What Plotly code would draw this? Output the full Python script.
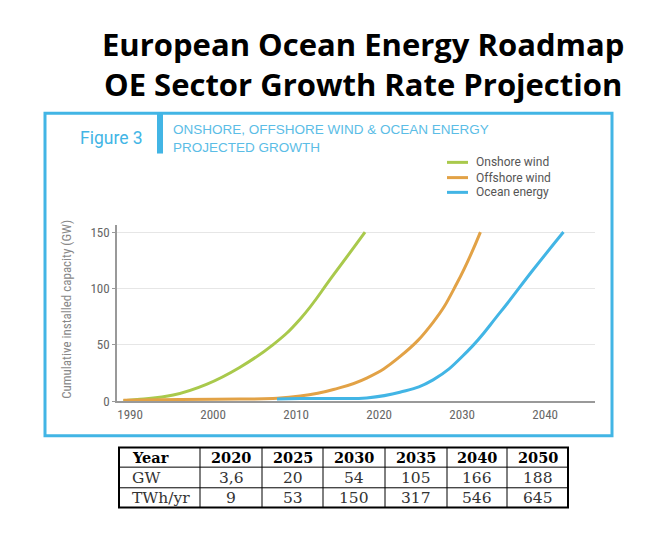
import plotly.graph_objects as go

# page has an 8px body margin: figure sized so the whole page is 652x550
FW, FH, OFF = 636, 534, 8
def fx(px): return (px - OFF) / FW
def fy(py): return 1 - (py - OFF) / FH

# ---- data ----
series_names = ["Onshore wind", "Offshore wind", "Ocean energy"]

onshore_years = [1989.2, 1991.2, 1995.2, 1999.2, 2003.2, 2007.2, 2010.5, 2014.5, 2018.3]
onshore_gw = [0.5, 1.7, 5.5, 15, 30, 50, 73, 112, 150]

offshore_years = [1989.2, 1996, 2003.2, 2007.2, 2010.5, 2014.5, 2018.5, 2022.5, 2026.5, 2029.4, 2032.2]
offshore_gw = [1, 1.5, 2, 2.5, 4.6, 10.5, 20.6, 39.5, 70, 105, 150]

ocean_years = [2007.7, 2010.5, 2014.5, 2018.5, 2022.5, 2026.5, 2030.6, 2034.6, 2038.6, 2042.2]
ocean_gw = [2, 2.5, 2.5, 3, 8, 19, 44, 79, 117, 150]

x_ticks = [1990, 2000, 2010, 2020, 2030, 2040]
y_ticks = [0, 50, 100, 150]

table_header = ["Year", "2020", "2025", "2030", "2035", "2040", "2050"]
table_gw = ["GW", "3,6", "20", "54", "105", "166", "188"]
table_twh = ["TWh/yr", "9", "53", "150", "317", "546", "645"]

GREEN = "#a9c94c"
ORANGE = "#e2a246"
BLUE = "#42b5e5"
NARROW = "Liberation Sans Narrow, Roboto Condensed, Roboto, sans-serif"

fig = go.Figure()
colors = [GREEN, ORANGE, BLUE]
for name, xs, ys, col in zip(series_names,
                             [onshore_years, offshore_years, ocean_years],
                             [onshore_gw, offshore_gw, ocean_gw], colors):
    fig.add_trace(go.Scatter(x=xs, y=ys, mode="lines", name=name, showlegend=False,
                             line=dict(color=col, width=3, shape="spline", smoothing=1.3)))

shapes = [
    # figure frame
    dict(type="rect", xref="paper", yref="paper", x0=fx(45), x1=fx(612), y0=fy(442), y1=fy(114),
         line=dict(color=BLUE, width=3), fillcolor="rgba(0,0,0,0)", layer="below"),
    # vertical bar of the figure header
    dict(type="rect", xref="paper", yref="paper", x0=fx(157), x1=fx(163), y0=fy(155), y1=fy(114),
         line=dict(width=0), fillcolor=BLUE),
]
annotations = [
    dict(text="<b>European Ocean Energy Roadmap<br>OE Sector Growth Rate Projection</b>",
         x=fx(363), y=fy(64), xref="paper", yref="paper", xanchor="center", yanchor="middle",
         showarrow=False, align="center", font=dict(family="Open Sans", size=31, color="black")),
    dict(text="Figure 3", x=fx(78), y=fy(139), xref="paper", yref="paper",
         xanchor="left", yanchor="middle", showarrow=False,
         font=dict(family="Roboto", size=17.5, color=BLUE)),
    dict(text="ONSHORE, OFFSHORE WIND &amp; OCEAN ENERGY<br>PROJECTED GROWTH", x=fx(171), y=fy(140),
         xref="paper", yref="paper", xanchor="left", yanchor="middle", align="left", showarrow=False,
         font=dict(family="Liberation Sans, Arial, sans-serif", size=13.5, color="#5bbde6")),
    dict(text="Cumulative installed capacity (GW)", x=fx(67), y=fy(313), xref="paper", yref="paper",
         xanchor="center", yanchor="middle", textangle=-90, showarrow=False,
         font=dict(family=NARROW, size=13, color="#888")),
]

# custom legend (short line samples)
legend_y = [164, 179.5, 194.5]
for name, col, ly in zip(series_names, colors, legend_y):
    shapes.append(dict(type="line", xref="paper", yref="paper", x0=fx(447), x1=fx(468),
                       y0=fy(ly), y1=fy(ly), line=dict(color=col, width=3)))
    annotations.append(dict(text=name, x=fx(474), y=fy(ly), xref="paper", yref="paper",
                            xanchor="left", yanchor="middle", showarrow=False,
                            font=dict(family="Roboto", size=12, color="#555")))

# table built from the arrays
col_edges = [119, 200, 262, 323, 385, 447, 507, 568]
row_edges = [454, 474, 495, 515]
for xe in col_edges[1:-1]:
    shapes.append(dict(type="line", xref="paper", yref="paper", x0=fx(xe), x1=fx(xe),
                       y0=fy(row_edges[0]), y1=fy(row_edges[-1]), line=dict(color="black", width=1)))
for ye in row_edges[1:-1]:
    shapes.append(dict(type="line", xref="paper", yref="paper", x0=fx(col_edges[0]), x1=fx(col_edges[-1]),
                       y0=fy(ye), y1=fy(ye), line=dict(color="black", width=1)))
shapes.append(dict(type="rect", xref="paper", yref="paper", x0=fx(col_edges[0]), x1=fx(col_edges[-1]),
                   y0=fy(row_edges[-1]), y1=fy(row_edges[0]), line=dict(color="black", width=2),
                   fillcolor="rgba(0,0,0,0)"))
for r, row in enumerate([table_header, table_gw, table_twh]):
    yc = (row_edges[r] + row_edges[r + 1]) / 2 + 0.5
    for c, val in enumerate(row):
        if c == 0:
            xpos, anchor = col_edges[0] + 11, "left"
        else:
            xpos, anchor = (col_edges[c] + col_edges[c + 1]) / 2, "center"
        txt = "<b>%s</b>" % val if r == 0 else val
        annotations.append(dict(text=txt, x=fx(xpos), y=fy(yc), xref="paper", yref="paper",
                                xanchor=anchor, yanchor="middle", showarrow=False,
                                font=dict(family="DejaVu Serif", size=14.5 if r == 0 else 15.5,
                                          color="black" if r == 0 else "#333")))

fig.update_layout(
    width=FW, height=FH,
    margin=dict(l=0, r=0, t=0, b=0),
    paper_bgcolor="white", plot_bgcolor="white",
    showlegend=False,
    xaxis=dict(domain=[fx(117), fx(595)], range=[1988.43, 2046.0],
               tickvals=x_ticks, showgrid=False, zeroline=False,
               showline=True, linecolor="#999", linewidth=1.5,
               tickfont=dict(family=NARROW, size=13, color="#666"), ticks=""),
    yaxis=dict(domain=[fy(407), fy(228)], range=[0, 156],
               tickvals=y_ticks, showgrid=True, gridcolor="#e6e6e6", gridwidth=1,
               zeroline=False, showline=True, linecolor="#999", linewidth=1.5,
               ticks="outside", ticklen=3, tickcolor="#999",
               tickfont=dict(family=NARROW, size=13, color="#666")),
    shapes=shapes,
    annotations=annotations,
)

fig.write_html("out.html")
